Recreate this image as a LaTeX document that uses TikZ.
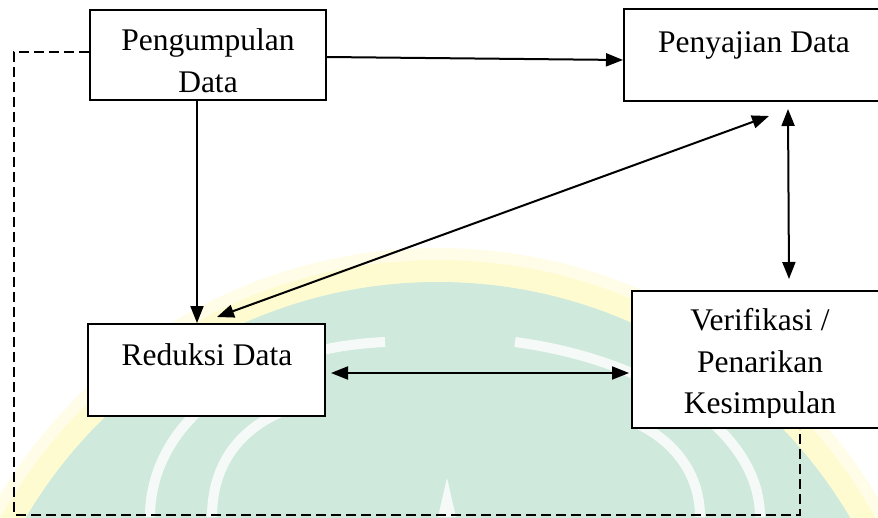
\documentclass[tikz,border=0pt]{standalone}
\usepackage{fontspec}
\setmainfont{Liberation Serif}
\usetikzlibrary{arrows.meta,calc}
\definecolor{wmyellow}{RGB}{255,251,208}
\definecolor{wmyellowlt}{RGB}{255,253,232}
\definecolor{wmgreen}{RGB}{207,234,220}
\begin{document}
\begin{tikzpicture}[x=1pt,y=-1pt,
  box/.style={draw=black,line width=2pt,fill=white,inner sep=0pt},
  lbl/.style={anchor=base,inner sep=0pt,font=\fontsize{31.5}{40}\selectfont},
  conn/.style={line width=2pt,-{Triangle[length=17pt,width=13pt]}},
  biconn/.style={line width=2pt,{Triangle[length=17pt,width=13pt]}-{Triangle[length=17pt,width=13pt]}},
  dashline/.style={line width=2pt,dash pattern=on 10pt off 5pt},
  wmarc/.style={draw=white,line width=10pt,opacity=0.8}]
\useasboundingbox (0,0) rectangle (878,517);
% watermark
\begin{scope}
\clip (0,0) rectangle (878,517);
\fill[wmyellowlt] (438,760) circle (512);
\fill[wmyellow] (438,760) circle (500);
\fill[wmgreen] (438,760) circle (478);
\draw[wmarc] (150,517) .. controls (150,420) and (250,348) .. (385,342);
\draw[wmarc] (760,517) .. controls (760,430) and (650,360) .. (515,342);
\draw[wmarc] (212,517) .. controls (212,455) and (250,420) .. (300,405);
\draw[wmarc] (700,517) .. controls (700,470) and (670,440) .. (640,425);
\fill[white,opacity=0.8] (447,478) -- (438,517) -- (456,517) -- cycle;
\end{scope}
% boxes
\node[box,minimum width=236pt,minimum height=90pt] (pd) at (208,55) {};
\node[box,minimum width=260pt,minimum height=92pt] (ps) at (754,55) {};
\node[box,minimum width=237pt,minimum height=92pt] (rd) at (206.5,370) {};
\node[box,minimum width=256pt,minimum height=137pt] (vk) at (760,359.5) {};
% texts
\node[lbl] (t1) at (208,50) {Pengumpulan};
\node[lbl] (t2) at (208,92) {Data};
\node[lbl] (t3) at (754,52) {Penyajian Data};
\node[lbl] (t4) at (207,365) {Reduksi Data};
\node[lbl] (t5) at (760,330) {Verifikasi /};
\node[lbl] (t6) at (760,372) {Penarikan};
\begin{scope}
\clip (633,380) rectangle (877,417);
\node[lbl] (t7) at (760,413) {Kesimpulan};
\end{scope}
% connectors
\draw[conn] ([yshift=-2pt]pd.east) -- ([yshift=-5pt]ps.west);
\draw[conn] ([xshift=-11pt]pd.south) -- ([xshift=-9.5pt]rd.north);
\draw[biconn] ([xshift=10.5pt,yshift=6pt]rd.north) -- ([xshift=15pt,yshift=-14pt]ps.south);
\draw[biconn] ([xshift=34pt,yshift=-7pt]ps.south) -- ([xshift=29pt,yshift=11pt]vk.north);
\draw[biconn] ([xshift=5pt,yshift=-3pt]rd.east) -- ([xshift=-2pt,yshift=-13.5pt]vk.west);
\coordinate (dc) at (14,515);
\draw[dashline] ([yshift=3pt]pd.west) -| (dc) -| ([xshift=40pt]vk.south);
\end{tikzpicture}
\end{document}
